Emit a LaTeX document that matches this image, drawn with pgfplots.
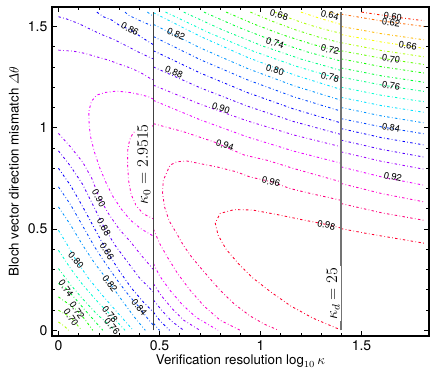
\documentclass[border=0pt]{standalone}
\usepackage{amsmath}
\usepackage{fontspec}
\setmainfont{TeX Gyre Heros}
\usepackage{pgfplots}
\pgfplotsset{compat=1.18}

% contour colours, hue follows the level (hsv palette)
\definecolor{c60}{hsb}{0.02,1,1}
\definecolor{c62}{hsb}{0.07,1,1}
\definecolor{c64}{hsb}{0.12,1,1}
\definecolor{c66}{hsb}{0.17,1,1}
\definecolor{c68}{hsb}{0.22,1,1}
\definecolor{c70}{hsb}{0.27,1,1}
\definecolor{c72}{hsb}{0.32,1,1}
\definecolor{c74}{hsb}{0.37,1,1}
\definecolor{c76}{hsb}{0.42,1,1}
\definecolor{c78}{hsb}{0.47,1,1}
\definecolor{c80}{hsb}{0.52,1,1}
\definecolor{c82}{hsb}{0.57,1,1}
\definecolor{c84}{hsb}{0.62,1,1}
\definecolor{c86}{hsb}{0.67,1,1}
\definecolor{c88}{hsb}{0.72,1,1}
\definecolor{c90}{hsb}{0.77,1,1}
\definecolor{c92}{hsb}{0.82,1,1}
\definecolor{c94}{hsb}{0.87,1,1}
\definecolor{c96}{hsb}{0.92,1,1}
\definecolor{c98}{hsb}{0.97,1,1}

\tikzset{
  cnt/.style={line width=0.65pt, dash pattern=on 1.8pt off 1.8pt on 0.5pt off 1.8pt},
  clab/.style={font=\fontsize{7}{8}\selectfont, inner sep=0.5pt},
}

\begin{document}
\begin{tikzpicture}
\begin{axis}[
    scale only axis, width=282.75pt, height=246.75pt,
    xmin=-0.032, xmax=1.834, ymin=-0.028, ymax=1.596,
    xtick={0,0.5,1,1.5}, ytick={0,0.5,1,1.5},
    minor x tick num=4, minor y tick num=4,
    tick align=inside, major tick length=4pt, minor tick length=2.2pt,
    axis line style={line width=0.8pt}, every tick/.style={black, line width=0.5pt},
    /pgf/number format/assume math mode=true,
    tick label style={font=\fontsize{10.5}{12}\selectfont},
    label style={font=\fontsize{13.5}{15}\selectfont},
    xlabel={Verification resolution $\log_{10}\kappa$},
    ylabel={Bloch vector direction mismatch $\varDelta\theta$},
    every axis x label/.style={at={(axis description cs:0.5,-0.076)}, anchor=center},
    every axis y label/.style={at={(axis description cs:-0.101,0.5)}, rotate=90, anchor=center},
  ]

  % ---------- left region (kappa < kappa_0) ----------
  \addplot[cnt, c82] coordinates {(0.44,1.5708) (0.47,1.55)};
  \addplot[cnt, c84] coordinates {(0.33,1.5708) (0.346,1.556) (0.395,1.532) (0.47,1.50)};
  \addplot[cnt, c86] coordinates {(0.19,1.5708) (0.222,1.548) (0.263,1.532) (0.304,1.504) (0.354,1.485) (0.42,1.441) (0.47,1.41)};
  \addplot[cnt, c88] coordinates {(0,1.548) (0.04,1.537) (0.098,1.515) (0.156,1.487) (0.214,1.46) (0.271,1.437) (0.329,1.408) (0.387,1.378) (0.445,1.35) (0.47,1.34)};
  \addplot[cnt, c90] coordinates {(0,1.383) (0.073,1.378) (0.131,1.367) (0.189,1.350) (0.247,1.334) (0.304,1.313) (0.362,1.293) (0.412,1.269) (0.453,1.244) (0.47,1.235)};
  \addplot[cnt, c92] coordinates {(0.47,1.141) (0.445,1.153) (0.403,1.164) (0.354,1.174) (0.288,1.181) (0.23,1.174) (0.189,1.161) (0.163,1.13) (0.15,1.08) (0.152,1.01) (0.16,0.95) (0.178,0.88) (0.205,0.80) (0.235,0.73) (0.27,0.66) (0.31,0.60) (0.355,0.545) (0.41,0.50) (0.47,0.465)};
  \addplot[cnt, c94] coordinates {(0.47,1.01) (0.45,1.005) (0.40,0.997) (0.37,0.975) (0.352,0.94) (0.343,0.89) (0.342,0.82) (0.347,0.74) (0.36,0.67) (0.385,0.615) (0.42,0.575) (0.47,0.55)};
  \addplot[cnt, c90] coordinates {(0,0.972) (0.06,0.905) (0.12,0.83) (0.165,0.75) (0.20,0.66) (0.245,0.58) (0.30,0.50) (0.354,0.44) (0.41,0.37) (0.47,0.30)};
  \addplot[cnt, c88] coordinates {(0,0.886) (0.06,0.81) (0.12,0.72) (0.175,0.61) (0.225,0.51) (0.28,0.42) (0.34,0.34) (0.40,0.26) (0.47,0.19)};
  \addplot[cnt, c86] coordinates {(0,0.80) (0.06,0.715) (0.12,0.61) (0.18,0.50) (0.24,0.39) (0.30,0.295) (0.36,0.21) (0.42,0.14) (0.47,0.09)};
  \addplot[cnt, c84] coordinates {(0,0.708) (0.06,0.62) (0.12,0.515) (0.18,0.41) (0.24,0.32) (0.30,0.235) (0.35,0.17) (0.40,0.114) (0.44,0.06) (0.47,0.025)};
  \addplot[cnt, c82] coordinates {(0,0.609) (0.06,0.52) (0.12,0.42) (0.18,0.33) (0.255,0.232) (0.32,0.14) (0.38,0.06) (0.43,0)};
  \addplot[cnt, c80] coordinates {(0,0.494) (0.045,0.42) (0.087,0.346) (0.15,0.255) (0.22,0.17) (0.29,0.09) (0.37,0)};
  \addplot[cnt, c78] coordinates {(0,0.395) (0.06,0.305) (0.12,0.225) (0.19,0.145) (0.255,0.079) (0.33,0)};
  \addplot[cnt, c76] coordinates {(0,0.305) (0.06,0.225) (0.12,0.155) (0.19,0.08) (0.28,0)};
  \addplot[cnt, c74] coordinates {(0,0.231) (0.037,0.207) (0.08,0.16) (0.14,0.09) (0.22,0)};
  \addplot[cnt, c72] coordinates {(0,0.165) (0.05,0.13) (0.092,0.099) (0.13,0.055) (0.17,0)};
  \addplot[cnt, c70] coordinates {(0,0.099) (0.062,0.064) (0.09,0.03) (0.115,0)};
  \addplot[cnt, c68] coordinates {(0,0.041) (0.03,0.02) (0.05,0)};

  % ---------- middle region (kappa_0 < kappa < kappa_d) ----------
  \addplot[cnt, c64] coordinates {(1.34,1.5708) (1.398,1.556)};
  \addplot[cnt, c66] coordinates {(1.20,1.5708) (1.30,1.538) (1.398,1.510)};
  \addplot[cnt, c68] coordinates {(1.07,1.5708) (1.152,1.538) (1.234,1.51) (1.316,1.486) (1.398,1.466)};
  \addplot[cnt, c70] coordinates {(0.95,1.5708) (1.062,1.524) (1.174,1.483) (1.286,1.448) (1.398,1.419)};
  \addplot[cnt, c72] coordinates {(0.83,1.5708) (0.972,1.510) (1.114,1.457) (1.256,1.412) (1.398,1.375)};
  \addplot[cnt, c74] coordinates {(0.72,1.5708) (0.89,1.496) (1.059,1.431) (1.229,1.375) (1.398,1.329)};
  \addplot[cnt, c76] coordinates {(0.62,1.5708) (0.8145,1.482) (1.009,1.404) (1.2035,1.338) (1.398,1.283)};
  \addplot[cnt, c78] coordinates {(0.53,1.5708) (0.747,1.468) (0.964,1.378) (1.181,1.302) (1.398,1.239)};
  \addplot[cnt, c80] coordinates {(0.47,1.568) (0.702,1.451) (0.934,1.348) (1.166,1.261) (1.398,1.189)};
  \addplot[cnt, c82] coordinates {(0.47,1.51) (0.702,1.394) (0.934,1.293) (1.166,1.207) (1.398,1.136)};
  \addplot[cnt, c84] coordinates {(0.47,1.45) (0.702,1.336) (0.934,1.237) (1.166,1.152) (1.398,1.082)};
  \addplot[cnt, c86] coordinates {(0.47,1.38) (0.702,1.27) (0.934,1.174) (1.166,1.092) (1.398,1.024)};
  \addplot[cnt, c88] coordinates {(0.47,1.30) (0.702,1.197) (0.934,1.107) (1.166,1.03) (1.398,0.967)};
  \addplot[cnt, c90] coordinates {(0.47,1.21) (0.702,1.116) (0.934,1.034) (1.166,0.964) (1.398,0.906)};
  \addplot[cnt, c92] coordinates {(0.47,1.135) (0.702,1.039) (0.934,0.955) (1.166,0.884) (1.398,0.825)};
  \addplot[cnt, c94] coordinates {(0.47,1.02) (0.62,0.98) (0.77,0.93) (0.92,0.865) (1.03,0.84) (1.16,0.80) (1.28,0.766) (1.398,0.733)};
  \addplot[cnt, c96] coordinates {(1.398,0.642) (1.245,0.676) (1.146,0.700) (1.055,0.733) (0.948,0.757) (0.882,0.782) (0.783,0.807) (0.70,0.823) (0.634,0.836) (0.585,0.832) (0.552,0.815) (0.519,0.741) (0.515,0.68) (0.525,0.61) (0.548,0.54) (0.585,0.478) (0.618,0.42) (0.659,0.362) (0.70,0.313) (0.75,0.255) (0.80,0.198) (0.87,0.13) (0.95,0.07) (1.02,0.03) (1.09,0)};
  \addplot[cnt, c98] coordinates {(1.398,0.505) (1.33,0.522) (1.21,0.545) (1.08,0.572) (0.96,0.594) (0.87,0.596) (0.80,0.577) (0.776,0.53) (0.79,0.47) (0.83,0.40) (0.89,0.33) (0.96,0.26) (1.05,0.19) (1.15,0.12) (1.26,0.06) (1.39,0.005)};
  \addplot[cnt, c94] coordinates {(0.47,0.50) (0.50,0.43) (0.54,0.36) (0.59,0.28) (0.65,0.20) (0.72,0.12) (0.80,0.05) (0.90,0)};
  \addplot[cnt, c92] coordinates {(0.47,0.33) (0.50,0.27) (0.55,0.20) (0.61,0.13) (0.68,0.065) (0.79,0)};
  \addplot[cnt, c90] coordinates {(0.47,0.23) (0.51,0.17) (0.56,0.11) (0.62,0.05) (0.70,0)};
  \addplot[cnt, c88] coordinates {(0.47,0.15) (0.51,0.10) (0.56,0.045) (0.62,0)};
  \addplot[cnt, c86] coordinates {(0.47,0.09) (0.50,0.05) (0.55,0)};
  \addplot[cnt, c84] coordinates {(0.47,0.035) (0.50,0)};

  % ---------- right region (kappa > kappa_d) ----------
  \addplot[cnt, c60] coordinates {(1.50,1.5708) (1.655,1.548) (1.81,1.528)};
  \addplot[cnt, c62] coordinates {(1.398,1.561) (1.60,1.527) (1.81,1.50)};
  \addplot[cnt, c64] coordinates {(1.398,1.50) (1.60,1.464) (1.81,1.434)};
  \addplot[cnt, c66] coordinates {(1.398,1.46) (1.60,1.423) (1.81,1.392)};
  \addplot[cnt, c68] coordinates {(1.398,1.42) (1.60,1.381) (1.81,1.35)};
  \addplot[cnt, c70] coordinates {(1.398,1.38) (1.60,1.343) (1.81,1.312)};
  \addplot[cnt, c72] coordinates {(1.398,1.34) (1.60,1.301) (1.81,1.27)};
  \addplot[cnt, c74] coordinates {(1.398,1.295) (1.60,1.256) (1.81,1.224)};
  \addplot[cnt, c76] coordinates {(1.398,1.25) (1.60,1.211) (1.81,1.179)};
  \addplot[cnt, c78] coordinates {(1.398,1.20) (1.60,1.16) (1.81,1.128)};
  \addplot[cnt, c80] coordinates {(1.398,1.15) (1.60,1.109) (1.81,1.076)};
  \addplot[cnt, c82] coordinates {(1.398,1.10) (1.60,1.058) (1.81,1.024)};
  \addplot[cnt, c84] coordinates {(1.398,1.045) (1.60,1.004) (1.81,0.97)};
  \addplot[cnt, c86] coordinates {(1.398,0.996) (1.60,0.951) (1.81,0.915)};
  \addplot[cnt, c88] coordinates {(1.398,0.939) (1.60,0.893) (1.81,0.855)};
  \addplot[cnt, c90] coordinates {(1.398,0.881) (1.60,0.834) (1.81,0.795)};
  \addplot[cnt, c92] coordinates {(1.398,0.807) (1.60,0.757) (1.81,0.716)};
  \addplot[cnt, c94] coordinates {(1.398,0.725) (1.60,0.675) (1.81,0.634)};
  \addplot[cnt, c96] coordinates {(1.398,0.626) (1.60,0.580) (1.81,0.543)};
  \addplot[cnt, c98] coordinates {(1.398,0.502) (1.526,0.478) (1.674,0.453) (1.81,0.43)};

  % ---------- kappa_0 and kappa_d ----------
  \addplot[black!75, line width=1.1pt] coordinates {(0.47005,0) (0.47005,1.5708)};
  \addplot[black!55, line width=1.1pt] coordinates {(1.39794,0) (1.39794,1.5708)};
  \node[rotate=90, fill=white, inner sep=1pt, font=\fontsize{12}{14}\selectfont] at (axis cs:0.423,0.82) {$\kappa_0 = 2.9515$};
  \node[rotate=90, fill=white, inner sep=1pt, font=\fontsize{12}{14}\selectfont] at (axis cs:1.36,0.18) {$\kappa_d = 25$};

  % ---------- contour labels ----------
  \node[clab, rotate=-62] at (axis cs:0.20,0.652) {0.90};
  \node[clab, rotate=-60] at (axis cs:0.225,0.509) {0.88};
  \node[clab, rotate=-58] at (axis cs:0.24,0.39) {0.86};
  \node[clab, rotate=-50] at (axis cs:0.40,0.114) {0.84};
  \node[clab, rotate=-53] at (axis cs:0.255,0.232) {0.82};
  \node[clab, rotate=-48] at (axis cs:0.087,0.346) {0.80};
  \node[clab, rotate=-50] at (axis cs:0.255,0.079) {0.78};
  \node[clab, rotate=-50] at (axis cs:0.265,0.02) {0.76};
  \node[clab, rotate=-55] at (axis cs:0.037,0.207) {0.74};
  \node[clab, rotate=-55] at (axis cs:0.092,0.099) {0.72};
  \node[clab, rotate=-55] at (axis cs:0.062,0.064) {0.70};
  \node[clab, rotate=-27] at (axis cs:0.354,1.487) {0.86};
  \node[clab, rotate=-24] at (axis cs:0.582,1.462) {0.82};
  \node[clab, rotate=-23] at (axis cs:0.572,1.275) {0.88};
  \node[clab, rotate=-19] at (axis cs:0.804,1.097) {0.90};
  \node[clab, rotate=-18] at (axis cs:0.824,0.914) {0.94};
  \node[clab, rotate=-14] at (axis cs:1.052,0.733) {0.96};
  \node[clab, rotate=-15] at (axis cs:1.092,1.556) {0.68};
  \node[clab, rotate=-17] at (axis cs:1.072,1.418) {0.74};
  \node[clab, rotate=-17] at (axis cs:1.072,1.285) {0.80};
  \node[clab, rotate=-14] at (axis cs:1.344,1.556) {0.64};
  \node[clab, rotate=-13] at (axis cs:1.344,1.385) {0.72};
  \node[clab, rotate=-13] at (axis cs:1.344,1.25) {0.78};
  \node[clab, rotate=-13] at (axis cs:1.326,0.52) {0.98};
  \node[clab, rotate=-8] at (axis cs:1.655,1.548) {0.60};
  \node[clab, rotate=-8] at (axis cs:1.646,1.52) {0.62};
  \node[clab, rotate=-9] at (axis cs:1.729,1.405) {0.66};
  \node[clab, rotate=-9] at (axis cs:1.646,1.339) {0.70};
  \node[clab, rotate=-10] at (axis cs:1.646,1.207) {0.76};
  \node[clab, rotate=-10] at (axis cs:1.646,1.001) {0.84};
  \node[clab, rotate=-12] at (axis cs:1.655,0.757) {0.92};
\end{axis}
\path (-39pt,-34.5pt) rectangle (288pt,252pt);
\end{tikzpicture}
\end{document}
